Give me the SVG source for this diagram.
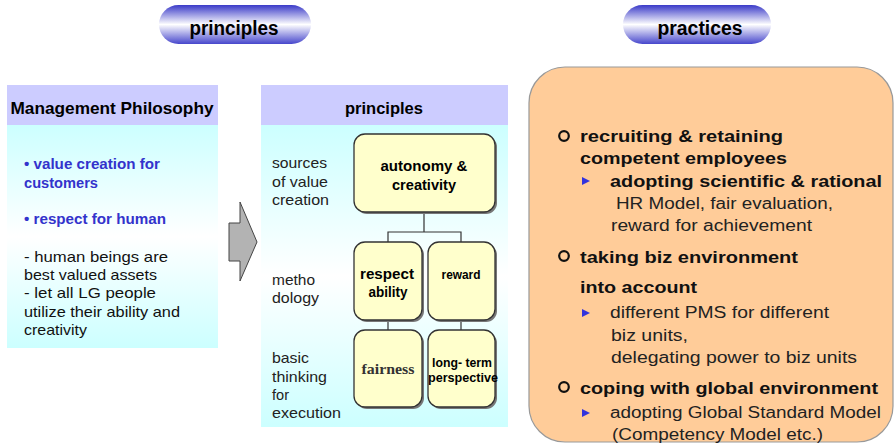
<svg xmlns="http://www.w3.org/2000/svg" width="896" height="446" viewBox="0 0 896 446">
<defs>
<linearGradient id="pill" x1="0" y1="0" x2="0" y2="1">
<stop offset="0" stop-color="#3a3ac8"/>
<stop offset="0.5" stop-color="#ffffff"/>
<stop offset="1" stop-color="#4646cc"/>
</linearGradient>
<linearGradient id="body" x1="0" y1="0" x2="0" y2="1">
<stop offset="0" stop-color="#ccffff"/>
<stop offset="0.5" stop-color="#ffffff"/>
<stop offset="1" stop-color="#ccffff"/>
</linearGradient>
</defs>
<style>
.pt{font-family:"Liberation Sans",Arial,sans-serif;font-weight:bold;font-size:20px;fill:#000;text-anchor:middle}
.hd{font-family:"Liberation Sans",Arial,sans-serif;font-weight:bold;font-size:17px;fill:#000;text-anchor:middle}
.bl{font-family:"Liberation Sans",Arial,sans-serif;font-weight:bold;font-size:15px;fill:#3333cc}
.tx{font-family:"Liberation Sans",Arial,sans-serif;font-size:15px;fill:#111}
.lb{font-family:"Liberation Sans",Arial,sans-serif;font-size:15px;fill:#222}
.nd{fill:#ffffcc;stroke:#333;stroke-width:1.3}
.sh{fill:#777}
.nt{font-family:"Liberation Sans",Arial,sans-serif;font-weight:bold;font-size:15px;fill:#000;text-anchor:middle}
.ns{font-family:"Liberation Sans",Arial,sans-serif;font-weight:bold;font-size:12px;fill:#000;text-anchor:middle}
.nf{font-family:"Liberation Serif","Times New Roman",serif;font-weight:bold;font-size:15px;fill:#333;text-anchor:middle}
.rb{font-family:"Liberation Sans",Arial,sans-serif;font-weight:bold;font-size:16px;fill:#111}
.rr{font-family:"Liberation Sans",Arial,sans-serif;font-size:16px;fill:#222}
.ci{fill:none;stroke:#111;stroke-width:2.2}
.tri{fill:#3333dd}
.cn{fill:none;stroke:#333;stroke-width:1.2}
</style>
<rect width="896" height="446" fill="#fff"/>

<g id="pill-principles">
<rect x="159" y="5" width="152" height="39" rx="19.5" fill="url(#pill)"/>
<text class="pt" x="234" y="35" textLength="89" lengthAdjust="spacingAndGlyphs">principles</text>
</g>
<g id="pill-practices">
<rect x="623" y="5" width="148" height="39" rx="19.5" fill="url(#pill)"/>
<text class="pt" x="700" y="35" textLength="85" lengthAdjust="spacingAndGlyphs">practices</text>
</g>

<g id="management-philosophy">
<rect x="7" y="125" width="211" height="223" fill="url(#body)"/>
<rect x="7" y="85" width="211" height="40" fill="#ccccff"/>
<text class="hd" x="112" y="114" textLength="203" lengthAdjust="spacingAndGlyphs">Management Philosophy</text>
<text class="bl" x="24" y="169" textLength="136" lengthAdjust="spacingAndGlyphs">• value creation for</text>
<text class="bl" x="24" y="188" textLength="74" lengthAdjust="spacingAndGlyphs">customers</text>
<text class="bl" x="24" y="224" textLength="142" lengthAdjust="spacingAndGlyphs">• respect for human</text>
<text class="tx" x="24" y="262" textLength="144" lengthAdjust="spacingAndGlyphs">-  human beings are</text>
<text class="tx" x="24" y="280" textLength="133" lengthAdjust="spacingAndGlyphs">best valued assets</text>
<text class="tx" x="24" y="298" textLength="132" lengthAdjust="spacingAndGlyphs">-  let all LG people</text>
<text class="tx" x="24" y="317" textLength="156" lengthAdjust="spacingAndGlyphs">utilize their ability and</text>
<text class="tx" x="24" y="335" textLength="63" lengthAdjust="spacingAndGlyphs">creativity</text>
</g>

<g id="arrow">
<path d="M229,223 L240,223 L240,202 L257,242 L240,281 L240,261 L229,261 Z" fill="#b3b3b3" stroke="#444" stroke-width="1"/>
</g>

<g id="principles-panel">
<rect x="261" y="125" width="247" height="302" fill="url(#body)"/>
<rect x="261" y="85" width="247" height="40" fill="#ccccff"/>
<text class="hd" x="384" y="114" textLength="78" lengthAdjust="spacingAndGlyphs">principles</text>
<text class="lb" x="272" y="168" textLength="55" lengthAdjust="spacingAndGlyphs">sources</text>
<text class="lb" x="272" y="187" textLength="56" lengthAdjust="spacingAndGlyphs">of value</text>
<text class="lb" x="272" y="205" textLength="57" lengthAdjust="spacingAndGlyphs">creation</text>
<text class="lb" x="272" y="285" textLength="43" lengthAdjust="spacingAndGlyphs">metho</text>
<text class="lb" x="272" y="303" textLength="47" lengthAdjust="spacingAndGlyphs">dology</text>
<text class="lb" x="272" y="363" textLength="37" lengthAdjust="spacingAndGlyphs">basic</text>
<text class="lb" x="272" y="382" textLength="55" lengthAdjust="spacingAndGlyphs">thinking</text>
<text class="lb" x="272" y="400" textLength="17" lengthAdjust="spacingAndGlyphs">for</text>
<text class="lb" x="272" y="418" textLength="69" lengthAdjust="spacingAndGlyphs">execution</text>
</g>

<g id="connectors">
<path class="cn" d="M424,212 V232 M388,242 V232 H461 V242 M388,320 V330 M461,320 V330"/>
</g>

<g id="node-autonomy">
<rect class="sh" x="356" y="136" width="141" height="78" rx="11"/>
<rect class="nd" x="354" y="134" width="141" height="78" rx="11"/>
<text class="nt" x="424" y="171" textLength="87" lengthAdjust="spacingAndGlyphs">autonomy &amp;</text>
<text class="nt" x="424" y="190" textLength="64" lengthAdjust="spacingAndGlyphs">creativity</text>
</g>
<g id="node-respect">
<rect class="sh" x="356" y="244" width="68" height="78" rx="11"/>
<rect class="nd" x="354" y="242" width="68" height="78" rx="11"/>
<text class="nt" x="387" y="279" textLength="54" lengthAdjust="spacingAndGlyphs">respect</text>
<text class="nt" x="388" y="297" textLength="39" lengthAdjust="spacingAndGlyphs">ability</text>
</g>
<g id="node-reward">
<rect class="sh" x="430" y="244" width="67" height="78" rx="11"/>
<rect class="nd" x="428" y="242" width="67" height="78" rx="11"/>
<text class="ns" x="461" y="279" textLength="39" lengthAdjust="spacingAndGlyphs">reward</text>
</g>
<g id="node-fairness">
<rect class="sh" x="356" y="332" width="68" height="77" rx="11"/>
<rect class="nd" x="354" y="330" width="68" height="77" rx="11"/>
<text class="nf" x="388" y="374" textLength="53" lengthAdjust="spacingAndGlyphs">fairness</text>
</g>
<g id="node-longterm">
<rect class="sh" x="430" y="332" width="67" height="77" rx="11"/>
<rect class="nd" x="428" y="330" width="67" height="77" rx="11"/>
<text class="ns" x="462" y="367" textLength="60" lengthAdjust="spacingAndGlyphs">long- term</text>
<text class="ns" x="463" y="382" textLength="70" lengthAdjust="spacingAndGlyphs">perspective</text>
</g>

<g id="practices-panel">
<rect x="529" y="67" width="364" height="375" rx="36" fill="#ffcc99" stroke="#999" stroke-width="1.2"/>
<circle class="ci" cx="564" cy="136" r="4.8"/>
<text class="rb" x="580" y="142" textLength="203" lengthAdjust="spacingAndGlyphs">recruiting &amp; retaining</text>
<text class="rb" x="580" y="164" textLength="207" lengthAdjust="spacingAndGlyphs">competent employees</text>
<path class="tri" d="M582,177 L590,181 L582,185 Z"/>
<text class="rb" x="610" y="187" textLength="272" lengthAdjust="spacingAndGlyphs">adopting scientific &amp; rational</text>
<text class="rr" x="616" y="209" textLength="217" lengthAdjust="spacingAndGlyphs">HR Model, fair evaluation,</text>
<text class="rr" x="611" y="231" textLength="201" lengthAdjust="spacingAndGlyphs">reward for achievement</text>
<circle class="ci" cx="564" cy="256" r="4.8"/>
<text class="rb" x="580" y="263" textLength="218" lengthAdjust="spacingAndGlyphs">taking biz environment</text>
<text class="rb" x="580" y="293" textLength="117" lengthAdjust="spacingAndGlyphs">into account</text>
<path class="tri" d="M582,309 L590,313 L582,317 Z"/>
<text class="rr" x="610" y="318" textLength="219" lengthAdjust="spacingAndGlyphs">different PMS for different</text>
<text class="rr" x="611" y="341" textLength="77" lengthAdjust="spacingAndGlyphs">biz units,</text>
<text class="rr" x="611" y="363" textLength="246" lengthAdjust="spacingAndGlyphs">delegating power to biz units</text>
<circle class="ci" cx="564" cy="387" r="4.8"/>
<text class="rb" x="580" y="394" textLength="298" lengthAdjust="spacingAndGlyphs">coping with global environment</text>
<path class="tri" d="M582,409 L590,413 L582,417 Z"/>
<text class="rr" x="610" y="418" textLength="271" lengthAdjust="spacingAndGlyphs">adopting Global Standard Model</text>
<text class="rr" x="612" y="440" textLength="211" lengthAdjust="spacingAndGlyphs">(Competency Model etc.)</text>
</g>
</svg>
